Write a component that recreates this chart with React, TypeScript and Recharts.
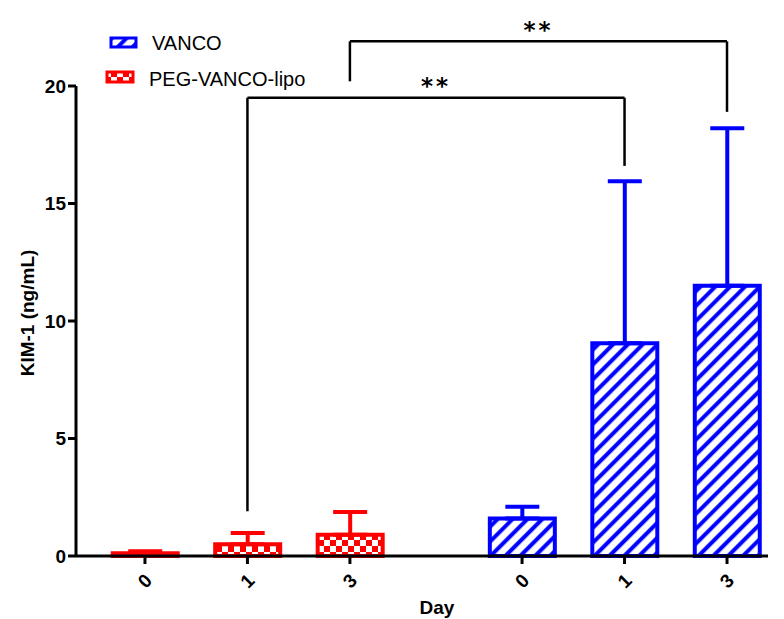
import {
  Bar,
  BarChart,
  Cell,
  ErrorBar,
  Legend,
  ReferenceDot,
  ReferenceLine,
  XAxis,
  YAxis,
} from "recharts";

// KIM-1 (ng/mL) by day, two groups
const days = ["0", "1", "3"];
const lipoMean = [0.12, 0.5, 0.9];
const lipoSd = [0.08, 0.48, 0.97];
const vancoMean = [1.6, 9.05, 11.5];
const vancoSd = [0.5, 6.9, 6.7];
const yTicks = [0, 5, 10, 15, 20];

// significance brackets: lipo day index -> vanco same day
const sigDayIndex = [1, 2];
const sigTop = [19.5, 21.9];
const sigLeftEnd = [1.9, 20.2];
const sigRightEnd = [16.6, 18.9];
const sigText = ["**", "**"];

const RED = "#ff0000";
const BLUE = "#0000ff";
const FONT = "'Liberation Sans', Arial, sans-serif";

// second group sits a bit further right than a plain category step
const GROUP2 = 3.68;

const rows = [
  ...days.map((d, i) => ({
    x: i,
    day: d,
    mean: lipoMean[i],
    lipoErr: [0, lipoSd[i]],
    group: "lipo",
  })),
  ...days.map((d, i) => ({
    x: i + GROUP2,
    day: d,
    mean: vancoMean[i],
    vancoErr: [0, vancoSd[i]],
    group: "vanco",
  })),
];
const tickPos = rows.map((r) => r.x);

const DayTick = ({ x, y, payload }: any) => {
  const row = rows.find((r) => Math.abs(r.x - payload.value) < 1e-6);
  return (
    <g transform={`translate(${x},${y + 15})`}>
      <text
        transform="rotate(-45)"
        textAnchor="middle"
        dominantBaseline="central"
        fontFamily={FONT}
        fontWeight="bold"
        fontSize={19}
        fill="#000"
      >
        {row ? row.day : ""}
      </text>
    </g>
  );
};

const Patterns = ({ prefix }: { prefix: string }) => (
  <defs>
    <pattern
      id={`${prefix}hatch`}
      width="10.5"
      height="10.5"
      patternUnits="userSpaceOnUse"
      patternTransform="rotate(45)"
    >
      <rect width="10.5" height="10.5" fill="#fff" />
      <line x1="5" y1="0" x2="5" y2="10.5" stroke={BLUE} strokeWidth={4} />
    </pattern>
    <pattern id={`${prefix}check`} width="12" height="12" patternUnits="userSpaceOnUse">
      <rect width="12" height="12" fill={RED} />
      <rect x="0" y="0" width="6" height="6" fill="#fff" />
      <rect x="6" y="6" width="6" height="6" fill="#fff" />
    </pattern>
  </defs>
);

const LegendBox = () => (
  <svg width={240} height={64} style={{ display: "block" }}>
    <Patterns prefix="lg" />
    <rect x={12} y={9} width={25} height={9} fill="url(#lghatch)" stroke={BLUE} strokeWidth={3} />
    <text x={53} y={14} dominantBaseline="central" fontFamily={FONT} fontSize={20}>
      VANCO
    </text>
    <rect x={8} y={43} width={26} height={10} fill="url(#lgcheck)" stroke={RED} strokeWidth={3} />
    <text x={50} y={50} dominantBaseline="central" fontFamily={FONT} fontSize={20}>
      PEG-VANCO-lipo
    </text>
  </svg>
);

const StarLabel = ({ viewBox, value }: any) => (
  <text
    x={viewBox.x}
    y={viewBox.y + 13}
    textAnchor="middle"
    fontFamily="'DejaVu Sans', sans-serif"
    fontWeight="bold"
    fontSize={23}
    letterSpacing={3}
    fill="#000"
  >
    {value}
  </text>
);

export default function App() {
  return (
    <div style={{ position: "absolute", left: 0, top: 0, background: "#fff" }}>
      <BarChart
        width={784}
        height={619}
        data={rows}
        margin={{ top: 86, right: 16, bottom: 0, left: 0 }}
      >
        <Patterns prefix="bar" />
        <XAxis
          type="number"
          dataKey="x"
          domain={[-0.673, 6.08]}
          allowDataOverflow
          ticks={tickPos}
          interval={0}
          tick={<DayTick />}
          tickSize={8}
          height={63}
          axisLine={{ stroke: "#000", strokeWidth: 3 }}
          tickLine={{ stroke: "#000", strokeWidth: 3 }}
          label={({ viewBox }: any) => (
            <text
              x={437}
              y={viewBox.y + 58}
              textAnchor="middle"
              fontFamily={FONT}
              fontWeight="bold"
              fontSize={19}
              fill="#000"
            >
              Day
            </text>
          )}
        />
        <YAxis
          domain={[0, 20]}
          ticks={yTicks}
          width={76}
          tickSize={8}
          axisLine={{ stroke: "#000", strokeWidth: 3 }}
          tickLine={{ stroke: "#000", strokeWidth: 3 }}
          tick={{ fontFamily: FONT, fontWeight: "bold", fontSize: 19, fill: "#000" }}
          label={({ viewBox }: any) => {
            const cy = viewBox.y + viewBox.height / 2 - 8;
            return (
              <text
                x={27}
                y={cy}
                transform={`rotate(-90, 27, ${cy})`}
                textAnchor="middle"
                dominantBaseline="central"
                fontFamily={FONT}
                fontWeight="bold"
                fontSize={19}
                fill="#000"
              >
                KIM-1 (ng/mL)
              </text>
            );
          }}
        />
        <Legend
          content={<LegendBox />}
          layout="vertical"
          verticalAlign="middle"
          align="center"
          wrapperStyle={{ top: 29, left: 99, width: 240, height: 64 }}
        />
        <Bar dataKey="mean" barSize={65} strokeWidth={4} isAnimationActive={false}>
          {rows.map((r, i) => (
            <Cell
              key={i}
              fill={r.group === "lipo" ? "url(#barcheck)" : "url(#barhatch)"}
              stroke={r.group === "lipo" ? RED : BLUE}
            />
          ))}
          <ErrorBar dataKey="lipoErr" direction="y" width={17} strokeWidth={4} stroke={RED} />
          <ErrorBar dataKey="vancoErr" direction="y" width={17} strokeWidth={4} stroke={BLUE} />
        </Bar>
        {sigDayIndex.map((d, i) => {
          const x1 = d;
          const x2 = d + GROUP2;
          const line = { stroke: "#000", strokeWidth: 2.5, ifOverflow: "visible" as const };
          return [
            <ReferenceLine key={`l${i}`} {...line} segment={[{ x: x1, y: sigLeftEnd[i] }, { x: x1, y: sigTop[i] }]} />,
            <ReferenceLine key={`t${i}`} {...line} segment={[{ x: x1, y: sigTop[i] }, { x: x2, y: sigTop[i] }]} />,
            <ReferenceLine key={`r${i}`} {...line} segment={[{ x: x2, y: sigTop[i] }, { x: x2, y: sigRightEnd[i] }]} />,
            <ReferenceDot
              key={`s${i}`}
              x={(x1 + x2) / 2}
              y={sigTop[i] + 0.7}
              r={0}
              fill="none"
              stroke="none"
              ifOverflow="visible"
              label={<StarLabel value={sigText[i]} />}
            />,
          ];
        })}
      </BarChart>
    </div>
  );
}
